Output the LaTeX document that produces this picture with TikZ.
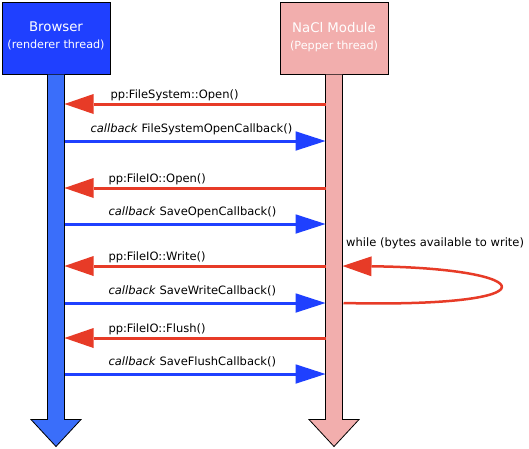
\documentclass[tikz,border=0pt]{standalone}
\usepackage{fontspec}
\setmainfont{DejaVu Sans}
\usetikzlibrary{arrows.meta,positioning}

\definecolor{brwblue}{HTML}{1F40FF}
\definecolor{lifeblue}{HTML}{3A6EFA}
\definecolor{cbblue}{HTML}{1F40FF}
\definecolor{callred}{HTML}{E73B27}
\definecolor{naclpink}{HTML}{F2AEAD}

% lifeline below a thread box: shaft plus big head
\newcommand\lifeline[2]{%
  \draw[life,fill=#2] ([xshift=-8.5pt]#1.south) -- ++(0,345) -- ++(-16.5,0)
    -- ++(25,27) -- ++(25,-27) -- ++(-16.5,0) -- ++(0,-345);}

\begin{document}
\begin{tikzpicture}[x=1pt,y=-1pt,
    thread/.style={draw=black,line width=1pt,minimum width=108pt,minimum height=72pt,
      text=white,align=center,font=\fontsize{13.3}{17}\selectfont,text depth=5pt},
    life/.style={draw=black,line width=0.8pt},
    msg/.style={font=\fontsize{11.5}{14}\selectfont,anchor=base west,inner sep=0pt},
    call/.style={draw=callred,line width=3pt,-{Triangle[length=29pt,width=20pt,line width=0pt]}},
    callback/.style={draw=cbblue,line width=3pt,-{Triangle[length=30pt,width=19.5pt,line width=0pt]}}]
  \useasboundingbox (0,0) rectangle (529,448);

  \node[thread,fill=brwblue] (brw) at (56,38)
    {Browser\\{\fontsize{11.2}{14}\selectfont(renderer thread)}};
  \node[thread,fill=naclpink] (nacl) at (334,38)
    {NaCl Module\\{\fontsize{11.2}{14}\selectfont(Pepper thread)}};
  \lifeline{brw}{lifeblue}
  \lifeline{nacl}{naclpink}

  \coordinate (brwR) at ([xshift=8.5pt]brw.south);
  \coordinate (naclL) at ([xshift=-8.5pt]nacl.south);
  \coordinate (naclR) at ([xshift=8.5pt]nacl.south);

  % calls from the module
  \foreach \y/\dx/\txt in {104/44.5/pp:FileSystem::Open(), 188/42.5/pp:FileIO::Open(),
      266/42.5/pp:FileIO::Write(), 338/42.5/pp:FileIO::Flush()}
    \draw[call] (naclL |- 0,\y) -- (brwR |- 0,\y)
      node[msg,xshift=\dx pt,yshift=5.5pt] {\txt};

  % callbacks from the browser
  \foreach \y/\dx/\txt in {141/24.5/FileSystemOpenCallback(), 224/42.5/SaveOpenCallback(),
      303/42.5/SaveWriteCallback(), 374/42.5/SaveFlushCallback()}
    \draw[callback] (brwR |- 0,\y)
      node[msg,xshift=\dx pt,yshift=8.5pt] {\textit{callback} \txt} -- (naclL |- 0,\y);

  % write loop
  \draw[call,line width=2.5pt] ([xshift=1pt]naclR |- 0,303)
    .. controls (560,308) and (540,268) .. (naclR |- 0,266);
  \node[msg,xshift=3.5pt] (loop) at (naclR |- 0,246) {while (bytes available to write)};
\end{tikzpicture}
\end{document}
